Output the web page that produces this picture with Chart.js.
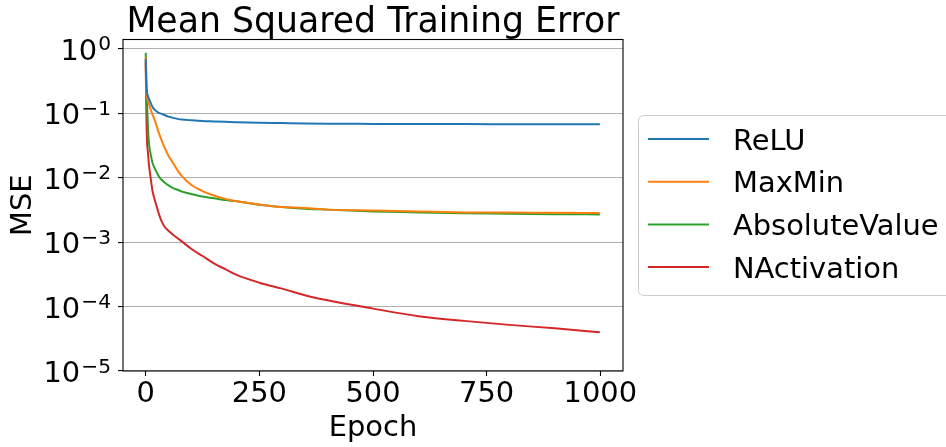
<!DOCTYPE html>
<html>
<head>
<meta charset="utf-8">
<script src="https://cdn.jsdelivr.net/npm/chart.js@4.4.0/dist/chart.umd.min.js"></script>
<style>
  html, body { margin: 0; padding: 0; background: #fff; }
  canvas { display: block; }
</style>
</head>
<body>
<canvas id="chart" width="946" height="447"></canvas>
<script>
// values (epoch -> MSE)
const epochs = [0, 1, 2, 3, 4, 5, 7, 10, 15, 20, 25, 30, 35, 40, 50, 60, 70, 80, 100, 125, 150, 175, 200, 250, 300, 350, 400, 500, 600, 700, 800, 900, 999];
const reluMSE = [0.70, 0.30, 0.23, 0.21, 0.195, 0.185, 0.17, 0.15, 0.125, 0.113, 0.106, 0.101, 0.098, 0.095, 0.089, 0.085, 0.082, 0.080, 0.078, 0.076, 0.075, 0.074, 0.073, 0.0715, 0.0705, 0.0695, 0.069, 0.0685, 0.068, 0.068, 0.0678, 0.0676, 0.0675];
const maxMinMSE = [0.75, 0.25, 0.19, 0.175, 0.165, 0.155, 0.14, 0.12, 0.095, 0.078, 0.060, 0.047, 0.038, 0.031, 0.022, 0.017, 0.013, 0.0105, 0.0078, 0.0062, 0.0053, 0.0047, 0.0043, 0.00385, 0.0035, 0.0034, 0.0032, 0.0031, 0.0030, 0.0029, 0.00288, 0.00285, 0.00283];
const absValueMSE = [0.87, 0.45, 0.25, 0.14, 0.09, 0.06, 0.035, 0.025, 0.017, 0.0140, 0.0118, 0.0102, 0.0093, 0.0086, 0.0076, 0.0069, 0.0065, 0.0061, 0.0056, 0.0051, 0.0048, 0.0045, 0.0043, 0.0038, 0.0035, 0.0033, 0.0032, 0.0030, 0.0029, 0.0028, 0.00277, 0.00272, 0.0027];
const nActMSE = [0.61, 0.15, 0.06, 0.035, 0.028, 0.024, 0.016, 0.011, 0.0062, 0.0045, 0.0034, 0.0026, 0.0021, 0.0018, 0.0015, 0.0013, 0.00115, 0.00102, 0.00079, 0.00061, 0.00047, 0.00038, 0.00031, 0.000235, 0.00019, 0.00015, 0.000125, 0.000093, 0.000071, 0.00006, 0.000052, 0.000046, 0.00004];

const seriesNames = ['ReLU', 'MaxMin', 'AbsoluteValue', 'NActivation'];
const seriesValues = [reluMSE, maxMinMSE, absValueMSE, nActMSE];
const seriesColors = ['#1f77b4', '#ff7f0e', '#2ca02c', '#d62728'];
const xTicks = [0, 250, 500, 750, 1000];
const yTicks = [1e-5, 1e-4, 1e-3, 1e-2, 1e-1, 1];
const chartTitle = 'Mean Squared Training Error';

const FONT = 'DejaVu Sans';
const FS = 28.9;

// title, frame, y tick labels (10^n) and legend box
const decorations = {
  id: 'decorations',
  afterDraw(chart) {
    const { ctx, chartArea: a, scales: { y } } = chart;
    ctx.save();

    ctx.strokeStyle = '#000';
    ctx.lineWidth = 1.1;
    ctx.strokeRect(a.left, a.top, a.right - a.left, a.bottom - a.top);

    ctx.fillStyle = '#000';
    ctx.textBaseline = 'alphabetic';
    ctx.textAlign = 'center';
    ctx.font = `34.7px "${FONT}"`;
    ctx.fillText(chartTitle, (a.left + a.right) / 2, 31.7);

    ctx.textAlign = 'right';
    yTicks.forEach(v => {
      const py = y.getPixelForValue(v);
      const exp = String(Math.round(Math.log10(v))).replace('-', '\u2212');
      ctx.font = `20.2px "${FONT}"`;
      ctx.fillText(exp, 111, py + 1.5);
      const w = ctx.measureText(exp).width;
      ctx.font = `${FS}px "${FONT}"`;
      ctx.fillText('10', 111 - w - 1, py + 11);
    });

    // legend
    ctx.beginPath();
    ctx.roundRect(638.5, 115.5, 330, 180, 5);
    ctx.fillStyle = 'rgba(255,255,255,0.8)';
    ctx.fill();
    ctx.strokeStyle = '#cccccc';
    ctx.lineWidth = 1;
    ctx.stroke();

    ctx.textAlign = 'left';
    ctx.font = `${FS}px "${FONT}"`;
    seriesNames.forEach((name, i) => {
      const ly = 139 + i * 42.7;
      ctx.strokeStyle = seriesColors[i];
      ctx.lineWidth = 2;
      ctx.beginPath();
      ctx.moveTo(648, ly);
      ctx.lineTo(709, ly);
      ctx.stroke();
      ctx.fillStyle = '#000';
      ctx.fillText(name, 733, ly + 10.5);
    });

    ctx.restore();
  }
};

const datasets = seriesNames.map((name, i) => ({
  label: name,
  data: epochs.map((e, j) => ({ x: e, y: seriesValues[i][j] })),
  borderColor: seriesColors[i],
  backgroundColor: seriesColors[i],
  borderWidth: 2,
  pointRadius: 0,
  fill: false,
  cubicInterpolationMode: 'monotone'
}));

new Chart(document.getElementById('chart'), {
  type: 'line',
  data: { datasets },
  options: {
    responsive: false,
    animation: false,
    devicePixelRatio: 1,
    layout: { padding: { top: 39.5, right: 323, bottom: 0, left: 0 } },
    plugins: {
      legend: { display: false },
      tooltip: { enabled: false }
    },
    scales: {
      x: {
        type: 'linear',
        min: -50,
        max: 1050,
        afterBuildTicks: s => { s.ticks = xTicks.map(v => ({ value: v })); },
        afterFit: s => { s.height = 76; },
        ticks: {
          color: '#000',
          padding: 1.1,
          maxRotation: 0,
          font: { family: FONT, size: FS },
          callback: v => String(v)
        },
        grid: { drawOnChartArea: false, tickLength: 5, tickColor: '#000', tickWidth: 1.1 },
        border: { display: false },
        title: {
          display: true,
          text: 'Epoch',
          color: '#000',
          font: { family: FONT, size: FS },
          padding: { top: 0, bottom: 1.3 }
        }
      },
      y: {
        type: 'logarithmic',
        min: 1e-5,
        max: 1.4,
        afterBuildTicks: s => { s.ticks = yTicks.map(v => ({ value: v })); },
        afterFit: s => { s.width = 123; },
        ticks: { display: false },
        grid: { color: '#b0b0b0', lineWidth: 1.1, tickLength: 5, tickColor: '#000', tickWidth: 1.1 },
        border: { display: false },
        title: {
          display: true,
          text: 'MSE',
          color: '#000',
          font: { family: FONT, size: FS },
          padding: { top: 6.6, bottom: 0 }
        }
      }
    }
  },
  plugins: [decorations]
});
</script>
</body>
</html>
